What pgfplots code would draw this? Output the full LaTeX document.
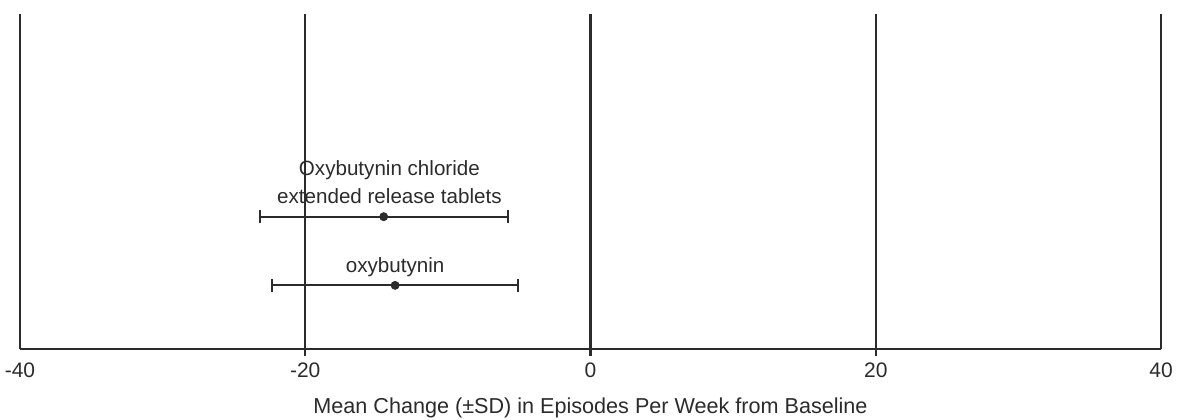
\documentclass[border=0pt]{standalone}
\usepackage{pgfplots}
\pgfplotsset{compat=1.18}
\usepackage{fontspec}
\setmainfont{Liberation Sans}
\definecolor{ink}{HTML}{2B2B2B}
\begin{document}
\begin{tikzpicture}
\begin{axis}[
  name=ax,
  scale only axis,
  width=570.5pt, height=167.5pt,
  xmin=-40, xmax=40, ymin=0, ymax=1,
  axis x line*=bottom,
  axis y line=none,
  axis line style={ink, line width=1.1pt},
  xtick={-40,-20,0,20,40},
  xticklabels={-40,-20,0,20,40},
  major tick length=0pt,
  xmajorgrids,
  grid style={ink, line width=1.1pt},
  ytick=\empty,
  ticklabel style={font=\fontsize{10.5}{12}\selectfont, text=ink},
  xticklabel style={anchor=center, yshift=-10.5pt},
  xlabel={Mean Change (\textpm SD) in Episodes Per Week from Baseline},
  xlabel style={font=\fontsize{10.8}{12}\selectfont, text=ink, at={(axis description cs:0.5,0)}, anchor=center, yshift=-29.5pt},
  clip=false,
]
\addplot[only marks, ink, mark=*, mark size=2pt, mark options={fill=ink, draw=ink},
  error bars/.cd, x dir=both, x explicit,
  error bar style={line width=1pt, ink},
  error mark options={rotate=90, mark size=3.2pt, line width=1pt, ink}]
  coordinates {
  (-14.5,0.395) +- (8.7,0)
  (-13.7,0.19) +- (8.6,0)
  };
\node[font=\fontsize{10.3}{14}\selectfont, text=ink, align=center] at (axis cs:-14.1,0.498) {Oxybutynin chloride\\extended release tablets};
\node[font=\fontsize{10.3}{12}\selectfont, text=ink] at (axis cs:-13.7,0.245) {oxybutynin};
\draw[ink, line width=1.1pt] (axis cs:-20,0) -- ([yshift=-3.5pt]axis cs:-20,0);
\draw[ink, line width=1.1pt] (axis cs:0,0) -- ([yshift=-3.5pt]axis cs:0,0);
\draw[ink, line width=1.1pt] (axis cs:20,0) -- ([yshift=-3.5pt]axis cs:20,0);
\end{axis}
\pgfresetboundingbox
\path ([shift={(-10pt,-35pt)}]ax.south west) rectangle ([shift={(9pt,7pt)}]ax.north east);
\end{tikzpicture}
\end{document}
